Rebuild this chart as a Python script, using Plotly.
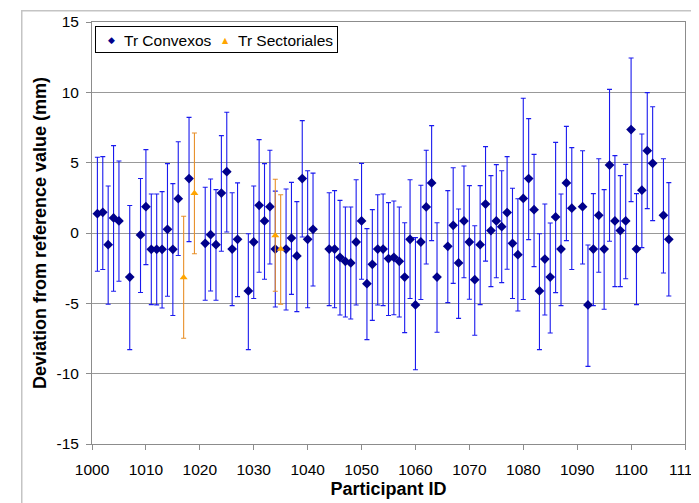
import plotly.graph_objects as go

# ---- data ----
convexos_id = [1001, 1002, 1003, 1004, 1005, 1007, 1009, 1010, 1011, 1012, 1013, 1014, 1015, 1016,
               1018, 1021, 1022, 1023, 1024, 1025, 1026, 1027, 1029, 1030, 1031, 1032, 1033, 1034,
               1036, 1037, 1038, 1039, 1040, 1041, 1044, 1045, 1046, 1047, 1048, 1049, 1050, 1051,
               1052, 1053, 1054, 1055, 1056, 1057, 1058, 1059, 1060, 1061, 1062, 1063, 1064, 1066,
               1067, 1068, 1069, 1070, 1071, 1072, 1073, 1074, 1075, 1076, 1077, 1078, 1079, 1080,
               1081, 1082, 1083, 1084, 1085, 1086, 1087, 1088, 1089, 1091, 1092, 1093, 1094, 1095,
               1096, 1097, 1098, 1099, 1100, 1101, 1102, 1103, 1104, 1106, 1107]
convexos_dev = [1.37, 1.47, -0.83, 1.07, 0.86, -3.13, -0.14, 1.87, -1.16, -1.16, -1.16, 0.26, -1.16, 2.44,
                3.87, -0.73, -0.12, -0.83, 2.84, 4.36, -1.14, -0.45, -4.12, -0.64, 1.97, 0.86, 1.87, -1.14,
                -1.14, -0.36, -1.63, 3.87, -0.45, 0.26, -1.14, -1.14, -1.73, -2.01, -2.13, -0.64, 0.86, -3.60,
                -2.23, -1.14, -1.14, -1.82, -1.73, -2.01, -3.13, -0.45, -5.11, -0.64, 1.85, 3.56, -3.13, -0.95,
                0.55, -2.13, 0.86, -0.64, -3.32, -0.83, 2.06, 0.17, 0.86, 0.45, 1.45, -0.73, -1.54, 2.46,
                3.87, 1.66, -4.12, -1.85, -3.13, 1.14, -1.14, 3.56, 1.76, 1.87, -5.11, -1.14, 1.26, -1.14,
                4.83, 0.86, 0.17, 0.86, 7.35, -1.14, 3.04, 5.85, 4.95, 1.26, -0.45]
convexos_high = [5.38, 5.43, 3.34, 6.21, 5.12, 1.95, 3.87, 5.93, 2.77, 2.77, 2.94, 4.93, 3.51, 6.49,
                 8.22, 3.25, 3.84, 3.08, 6.92, 8.58, 2.86, 3.56, -0.05, 3.34, 6.64, 4.93, 5.88, 2.98,
                 3.13, 3.60, 2.23, 7.99, 4.43, 4.26, 2.86, 3.01, 2.32, 1.85, 1.85, 3.79, 4.95, 0.31,
                 1.66, 2.72, 2.77, 2.16, 2.27, 1.85, 0.73, 3.79, -0.33, 3.39, 5.88, 7.63, 0.73, 3.01,
                 4.64, 1.71, 4.76, 3.37, 0.52, 3.37, 6.14, 4.08, 4.86, 4.43, 5.43, 3.18, 2.44, 9.58,
                 8.13, 5.59, -0.05, 2.06, 0.71, 6.44, 2.77, 7.58, 6.07, 5.85, -0.85, 2.80, 5.28, 3.08,
                 10.21, 5.50, 4.08, 4.88, 12.44, 2.80, 7.04, 9.98, 8.98, 5.28, 3.58]
convexos_low = [-2.72, -2.60, -5.07, -4.14, -3.43, -8.29, -4.23, -2.25, -5.09, -5.11, -5.33, -4.50, -5.87, -1.60,
                -0.61, -4.78, -4.12, -4.78, -1.30, 0.07, -5.16, -4.52, -8.29, -4.66, -2.79, -3.29, -2.20, -5.26,
                -5.47, -4.36, -5.59, -0.28, -5.31, -3.77, -5.16, -5.31, -5.83, -5.97, -6.11, -5.12, -3.29, -7.58,
                -6.21, -5.12, -5.16, -5.87, -5.81, -5.97, -7.08, -4.66, -9.72, -4.73, -2.20, -0.54, -7.06, -4.95,
                -3.58, -6.07, -3.18, -4.71, -7.27, -5.09, -2.00, -3.81, -3.18, -3.53, -2.58, -4.66, -5.54, -4.73,
                -0.47, -2.39, -8.29, -5.83, -7.11, -4.24, -5.16, -0.54, -2.60, -2.20, -9.48, -5.16, -2.79, -5.42,
                -0.59, -3.81, -3.81, -3.25, 2.23, -5.09, -1.04, 1.73, 0.88, -2.84, -4.48]

sectoriales_id = [1017, 1019, 1034, 1035]
sectoriales_dev = [-3.17, 2.82, -0.17, -1.14]
sectoriales_high = [1.19, 7.11, 3.82, 2.72]
sectoriales_low = [-7.48, -1.47, -4.14, -5.07]

series_names = ["Tr Convexos", "Tr Sectoriales"]
x_ticks = [1000, 1010, 1020, 1030, 1040, 1050, 1060, 1070, 1080, 1090, 1100, 1110]
y_ticks = [-15, -10, -5, 0, 5, 10, 15]

NAVY = "#00008B"
BAR_BLUE = "#1a1aee"
ORANGE = "#FFA500"
BAR_ORANGE = "#E8902A"

fig = go.Figure()

fig.add_trace(go.Scatter(
    x=convexos_id, y=convexos_dev, mode="markers", name=series_names[0],
    marker=dict(symbol="diamond", size=7.5, color=NAVY),
    error_y=dict(type="data", symmetric=False,
                 array=[h - v for h, v in zip(convexos_high, convexos_dev)],
                 arrayminus=[v - l for v, l in zip(convexos_dev, convexos_low)],
                 color=BAR_BLUE, thickness=1.1, width=2.5),
))
fig.add_trace(go.Scatter(
    x=sectoriales_id, y=sectoriales_dev, mode="markers", name=series_names[1],
    marker=dict(symbol="triangle-up", size=7, color=ORANGE),
    error_y=dict(type="data", symmetric=False,
                 array=[h - v for h, v in zip(sectoriales_high, sectoriales_dev)],
                 arrayminus=[v - l for v, l in zip(sectoriales_dev, sectoriales_low)],
                 color=BAR_ORANGE, thickness=1.1, width=2.5),
))

axis_font = dict(family="Liberation Sans, Arial, sans-serif", size=15.5, color="black")
title_font = dict(family="Liberation Sans, Arial, sans-serif", size=18, color="black")
legend_font = dict(family="Liberation Sans, Arial, sans-serif", size=15.5, color="black")

fig.update_layout(
    width=699, height=503,
    # the page body adds an 8px offset, so margins are reduced accordingly
    margin=dict(l=84, r=22, t=14, b=67, autoexpand=False),
    paper_bgcolor="white", plot_bgcolor="white",
    showlegend=False,
    xaxis=dict(range=[1000, 1110], tickvals=x_ticks, ticktext=[str(t) for t in x_ticks],
               showgrid=False, zeroline=False, showline=True, linecolor="#8C8C8C", linewidth=1,
               mirror=True, ticks="outside", ticklen=5, tickcolor="#8C8C8C",
               tickfont=axis_font, automargin=False, ticklabelstandoff=6,
               title=dict(text="<b>Participant ID</b>", font=title_font, standoff=5)),
    yaxis=dict(range=[-15, 15], tickvals=y_ticks, ticktext=[str(t) for t in y_ticks],
               showgrid=True, gridcolor="#999999", gridwidth=1, zeroline=False,
               showline=True, linecolor="#8C8C8C", linewidth=1, mirror=True,
               ticks="outside", ticklen=5, tickcolor="#8C8C8C",
               tickfont=axis_font, automargin=False, ticklabelstandoff=4,
               title=dict(text="<b>Deviation from reference value (mm)</b>", font=title_font, standoff=5)),
)

# outer chart-area border (only its top and left edges fall inside the picture)
fig.add_annotation(xref="paper", yref="paper", x=-0.1202, y=1.0284, text="\u00a0", showarrow=False,
                   xanchor="left", yanchor="top", width=900, height=700, borderpad=0,
                   bordercolor="#C4C4C4", borderwidth=1.5, bgcolor="rgba(0,0,0,0)", font=legend_font)

# legend box (drawn manually to match the reference layout)
fig.add_annotation(xref="paper", yref="paper", x=0.0051, y=0.9905, text="\u00a0", showarrow=False,
                   xanchor="left", yanchor="top", width=241, height=25, borderpad=0,
                   bordercolor="black", borderwidth=1, bgcolor="white", font=legend_font)
legend_y = 0.9573
fig.add_annotation(xref="paper", yref="paper", x=0.0332, y=legend_y, text="◆", showarrow=False,
                   font=dict(family="DejaVu Sans", size=9, color=NAVY), xanchor="center", yanchor="middle")
fig.add_annotation(xref="paper", yref="paper", x=0.0500, y=legend_y, text=series_names[0], showarrow=False,
                   font=legend_font, xanchor="left", yanchor="middle")
fig.add_annotation(xref="paper", yref="paper", x=0.2243, y=legend_y, text="▲", showarrow=False,
                   font=dict(family="DejaVu Sans", size=8, color=ORANGE), xanchor="center", yanchor="middle")
fig.add_annotation(xref="paper", yref="paper", x=0.2420, y=legend_y, text=series_names[1], showarrow=False,
                   font=legend_font, xanchor="left", yanchor="middle")

fig.write_html("out.html")
